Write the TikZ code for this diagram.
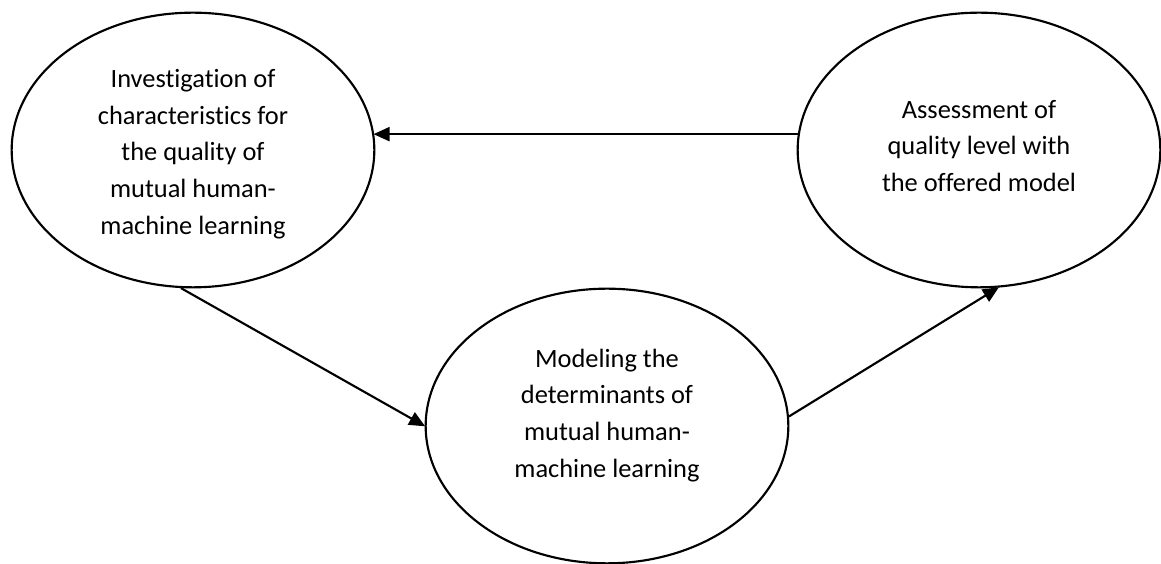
\documentclass[tikz,border=0pt]{standalone}
\usepackage{fontspec}
\setmainfont{Carlito}[Ligatures={NoCommon}]
\usetikzlibrary{arrows.meta,shapes.geometric}

\tikzset{
  stage/.style={draw=black, line width=1.6pt, ellipse, inner sep=0pt,
    minimum width=272pt, minimum height=206pt},
  stagetext/.style={align=center, font=\fontsize{19.8}{27.6}\selectfont,
    text=black, inner sep=0pt},
  flow/.style={draw=black, line width=1.6pt,
    -{Triangle[length=12pt,width=10.5pt]}, shorten >=-0.5pt}
}

\begin{document}
\begin{tikzpicture}[x=0.75pt, y=0.75pt]
  \useasboundingbox (0,0) rectangle (1161,564);

  % the three stages of the cycle
  \node[stage] (inv) at (193,414) {};
  \node[stage] (ass) at (979,414) {};
  \node[stage] (mod) at (607,138) {};

  \node[stagetext] (invtext) at ([yshift=-3pt]inv.center)
    {Investigation of\\characteristics for\\the quality of\\mutual human-\\machine learning};
  \node[stagetext] (asstext) at ([yshift=3pt]ass.center)
    {Assessment of\\quality level with\\the offered model};
  \node[stagetext] (modtext) at ([yshift=8pt]mod.center)
    {Modeling the\\determinants of\\mutual human-\\machine learning};

  % connectors between the stages
  \draw[flow] (ass.175) -- (inv.5);
  \draw[flow] (inv.265) -- (mod.west);
  \draw[flow] (mod.3) -- (ass.278);
\end{tikzpicture}
\end{document}
